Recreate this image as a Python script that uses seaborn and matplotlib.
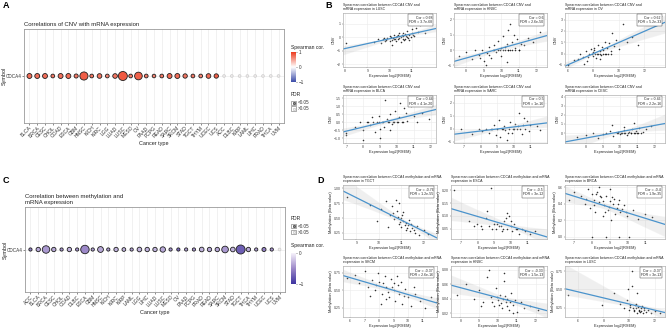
import numpy as np
import pandas as pd
import matplotlib
matplotlib.use("Agg")
import matplotlib.pyplot as plt
import seaborn as sns
from matplotlib.colors import LinearSegmentedColormap, Normalize
from matplotlib.cm import ScalarMappable
from matplotlib.patches import Rectangle

sns.set_theme(style="white")
plt.rcParams['font.family'] = ['Liberation Sans', 'DejaVu Sans']

# ---------------- Panel A data (CNV vs mRNA) ----------------
a_types = ["BLCA", "BRCA", "CESC", "CHOL", "COAD", "ESCA", "GBM", "HNSC", "KICH", "KIRC",
           "LGG", "LUAD", "LUSC", "MESO", "OV", "PAAD", "PCPG", "READ", "SARC", "SKCM",
           "STAD", "TGCT", "THYM", "UCEC", "UCS", "ACC", "DLBC", "KIRP", "LAML", "LIHC",
           "PRAD", "THCA", "UVM"]
a_cor = [0.74, 0.72, 0.74, 0.68, 0.72, 0.74, 0.68, 0.82, 0.70, 0.70,
         0.62, 0.70, 0.84, 0.68, 0.80, 0.66, 0.62, 0.68, 0.76, 0.74,
         0.70, 0.68, 0.64, 0.74, 0.82, 0.08, 0.08, 0.08, 0.08, 0.08,
         0.08, 0.08, 0.08]
a_nlogfdr = [14, 14, 14, 6, 14, 14, 8, 48, 6, 12,
             6, 12, 62, 6, 42, 6, 5, 6, 14, 14,
             10, 6, 6, 12, 10, 0.5, 0.5, 0.5, 0.5, 0.5,
             0.5, 0.5, 0.5]
a_sig = [True] * 25 + [False] * 8

# ---------------- Panel C data (methylation vs mRNA) ----------------
c_types = ["ACC", "BLCA", "BRCA", "CESC", "CHOL", "COAD", "DLBC", "ESCA", "GBM", "HNSC",
           "KICH", "KIRC", "KIRP", "LAML", "LGG", "LIHC", "LUAD", "LUSC", "MESO", "OV",
           "PAAD", "PCPG", "PRAD", "READ", "SARC", "SKCM", "STAD", "TGCT", "THCA", "THYM",
           "UCEC", "UCS", "UVM"]
c_cor = [-0.55, -0.35, -0.42, -0.35, -0.45, -0.30, -0.45, -0.50, -0.40, -0.35,
         -0.40, -0.30, -0.30, -0.40, -0.30, -0.30, -0.30, -0.35, -0.45, -0.70,
         -0.40, -0.45, -0.30, -0.35, -0.35, -0.42, -0.30, -0.75, -0.35, -0.40,
         -0.55, -0.45, -0.05]
c_nlogfdr = [3, 10, 40, 10, 3, 10, 3, 52, 3, 22,
             3, 10, 6, 3, 12, 10, 10, 18, 3, 3,
             3, 3, 12, 10, 10, 30, 12, 62, 10, 3,
             8, 3, 0.5]
c_sig = [True] * 32 + [False]

# ---------------- Panel B scatter data (CNV) ----------------
b_titles = ["LUSC", "HNSC", "OV", "BLCA", "SARC", "CESC"]
b_cor_txt = ["Cor = 0.68\nFDR = 3.7e-68", "Cor = 0.6\nFDR = 2.6e-50", "Cor = 0.62\nFDR = 5.2e-33",
             "Cor = 0.44\nFDR = 4.1e-20", "Cor = 0.5\nFDR = 1e-16", "Cor = 0.46\nFDR = 2.2e-16"]
b1_x = [8.05, 9.3, 9.6, 9.7, 9.8, 9.9, 10.0, 10.0, 10.1, 10.2, 10.2, 10.3, 10.3, 10.4, 10.4, 10.5, 10.5, 10.6,
        10.6, 10.7, 10.7, 10.8, 10.8, 10.9, 10.9, 11.0, 11.0, 11.1, 11.2, 11.2, 11.3, 11.4, 11.6, 9.5, 10.1,
        9.75, 9.85, 10.05, 10.15, 10.25, 10.35, 10.45, 10.55, 10.65, 10.75, 10.85, 10.95, 11.05, 10.45, 10.6]
b1_y = [-0.45, -0.35, -0.4, -0.15, -0.3, -0.05, -0.25, 0.1, -0.2, -0.1, 0.15, -0.3, 0.05, -0.15, 0.2, 0.0, -0.35,
        0.1, 0.3, -0.1, 0.25, 0.05, 0.45, 0.2, -0.2, 0.35, 0.6, 0.1, 1.2, 0.7, 0.4, 0.9, 0.3, -0.1, -0.6,
        -0.05, -0.2, 0.0, -0.05, -0.15, 0.1, -0.05, 0.15, -0.2, 0.1, -0.05, 0.05, 0.2, 0.3, -0.1]
b2_x = [7.6, 8.0, 8.3, 8.5, 8.7, 8.9, 9.0, 9.2, 9.3, 9.4, 9.5, 9.6, 9.7, 9.8, 9.9, 10.0, 10.0, 10.1, 10.2, 10.3,
        10.3, 10.4, 10.5, 10.6, 10.7, 10.8, 10.9, 11.0, 11.1, 11.3, 11.5, 11.8, 12.2, 9.1, 10.5, 10.4,
        9.6, 9.8, 10.1, 10.2, 10.4, 10.6, 10.8, 11.0, 8.8, 9.3]
b2_y = [-0.4, -0.1, -0.6, 0.0, -0.3, 0.0, -0.7, -0.2, 0.2, -0.5, 0.0, 0.3, -0.1, 0.6, 0.0, 0.1, -0.4, 0.9, 0.0,
        0.4, -0.8, 1.3, 0.0, 0.5, 1.0, 0.1, 0.7, 0.0, 0.4, 0.3, 0.8, 0.5, 1.2, -1.0, 1.7, 0.0,
        0.0, 0.0, 0.0, 0.2, 0.0, 0.0, 0.0, 0.0, -0.5, -0.3]
b3_x = [6.0, 6.5, 6.8, 7.0, 7.2, 7.4, 7.5, 7.7, 7.8, 8.0, 8.0, 8.1, 8.2, 8.3, 8.4, 8.5, 8.6, 8.7, 8.8, 8.9,
        9.0, 9.1, 9.2, 9.4, 9.6, 9.8, 10.0, 10.3, 10.6, 11.0, 11.5, 13.3, 7.3, 8.5, 9.5,
        7.9, 8.15, 8.35, 8.55, 8.75, 8.95, 9.15, 9.35, 7.6, 8.05]
b3_y = [-1.0, -0.6, -0.5, 0.0, -0.3, 0.2, -0.7, 0.0, 0.4, -0.2, 0.1, 0.5, -0.4, 0.0, 0.8, 0.2, -0.1, 0.6, 0.3,
        1.0, 0.0, 0.5, 0.9, 0.2, 0.7, 1.2, 0.4, 2.6, 1.0, 1.5, 0.8, 3.3, -0.9, -0.5, 1.8,
        0.0, 0.0, 0.0, 0.0, 0.0, 0.0, 0.0, 0.0, -0.3, 0.3]
b4_x = [7.0, 7.0, 7.5, 7.8, 8.0, 8.2, 8.4, 8.5, 8.7, 8.8, 9.0, 9.1, 9.2, 9.4, 9.5, 9.6, 9.7, 9.8, 9.9, 10.0,
        10.1, 10.2, 10.3, 10.5, 10.6, 10.8, 11.0, 11.2, 11.5, 11.9, 8.0, 9.3, 10.4, 9.0,
        8.3, 8.6, 8.9, 9.15, 9.45, 9.75, 10.05, 10.35, 9.6, 8.9]
b4_y = [-0.7, -0.8, -0.3, 0.0, -0.5, 0.0, -0.2, 0.3, -0.6, 0.0, -1.0, 0.0, -0.3, 0.2, 0.0, 0.5, -0.1, 0.0, 0.7,
        0.0, 0.3, 1.2, 0.0, 0.6, 0.1, 1.0, 0.4, 0.0, 0.6, 0.2, -1.1, 1.4, 0.9, -0.4,
        0.0, 0.0, 0.0, 0.0, 0.0, 0.0, 0.0, 0.0, -0.5, 0.4]
b5_x = [6.8, 7.5, 7.9, 8.1, 8.3, 8.5, 8.7, 8.8, 9.0, 9.2, 9.3, 9.4, 9.5, 9.7, 9.8, 9.9, 10.0, 10.1, 10.2, 10.3,
        10.4, 10.5, 10.7, 10.8, 11.0, 11.2, 11.4, 11.6, 9.6, 10.6, 9.1,
        8.9, 9.35, 9.65, 9.95, 10.25, 10.55, 10.9, 8.6]
b5_y = [0.0, -0.4, 0.0, -0.2, 0.0, -0.3, 0.0, 0.3, 0.0, -0.6, 0.0, 0.2, -0.1, 0.0, 0.5, -0.3, 0.0, 0.4, 0.0, 1.2,
        0.0, -0.4, 0.0, 0.6, 0.3, 1.8, 0.2, -0.1, -0.9, 0.8, 0.7,
        -0.5, 0.0, -0.3, 0.0, 0.2, 0.3, -0.2, 0.0]
b6_x = [7.5, 8.0, 8.4, 8.7, 9.0, 9.2, 9.4, 9.6, 9.8, 9.9, 10.0, 10.1, 10.2, 10.3, 10.4, 10.5, 10.6, 10.7, 10.8,
        10.9, 11.0, 11.1, 11.3, 11.5, 11.8, 12.3, 9.5, 10.2, 10.8,
        9.85, 10.05, 10.25, 10.45, 10.65, 10.85, 11.05, 11.2]
b6_y = [-0.4, -0.2, 0.0, -0.5, -0.1, 0.0, 0.2, -0.3, 0.0, 0.1, -0.1, 0.0, 0.3, 0.0, -0.2, 0.1, 0.0, 0.5, 0.0,
        0.2, 0.0, 0.6, 0.1, 0.4, 0.8, 3.8, 0.9, 0.7, 1.1,
        0.0, 0.0, 0.0, 0.0, 0.0, 0.0, 0.0, 0.0]
b_xlim = [(7.9, 12.1), (7.3, 12.6), (5.8, 13.6), (6.8, 12.3), (6.4, 12.0), (6.8, 12.6)]
b_ylim = [(-2.2, 1.8), (-1.1, 2.4), (-1.2, 3.6), (-1.3, 1.7), (-1.1, 2.6), (-1.1, 4.2)]
b_xt = [[8, 9, 10, 11], [8, 9, 10, 11, 12], [6, 8, 10, 12], [7, 8, 9, 10, 11, 12], [7, 8, 9, 10, 11], [8, 9, 10, 11, 12]]
b_yt = [[-2, -1, 0, 1], [-1, 0, 1, 2], [-1, 0, 1, 2, 3], [-1.0, -0.5, 0.0, 0.5, 1.0, 1.5], [-1, 0, 1, 2], [0, 1, 2, 3, 4]]

# ---------------- Panel D scatter data (methylation) ----------------
d_titles = ["TGCT", "ESCA", "BRCA", "SKCM", "HNSC", "LUSC"]
d_cor_txt = ["Cor = -0.76\nFDR = 1.2e-55", "Cor = -0.5\nFDR = 3e-12", "Cor = -0.4\nFDR = 1.9e-35",
             "Cor = -0.37\nFDR = 2.6e-16", "Cor = -0.33\nFDR = 1.5e-13", "Cor = -0.37\nFDR = 3e-13"]
d1_x = [8.6, 9.6, 10.1, 10.3, 10.5, 10.6, 10.7, 10.8, 10.9, 10.9, 11.0, 11.0, 11.1, 11.1, 11.2, 11.2, 11.3, 11.4,
        11.5, 11.6, 11.7, 11.8, 12.0, 12.2, 10.4, 11.05, 10.75, 11.35, 9.9,
        10.85, 10.95, 11.15, 11.25, 11.45, 10.65, 11.55]
d1_y = [0.85, 0.72, 0.65, 0.78, 0.55, 0.70, 0.48, 0.62, 0.40, 0.75, 0.50, 0.35, 0.45, 0.60, 0.30, 0.42, 0.38, 0.28,
        0.33, 0.25, 0.36, 0.22, 0.30, 0.24, 0.35, 0.55, 0.80, 0.47, 0.45,
        0.52, 0.44, 0.38, 0.34, 0.40, 0.58, 0.30]
d2_x = [6.6, 7.5, 7.8, 8.0, 8.3, 8.5, 8.7, 8.8, 9.0, 9.1, 9.3, 9.5, 9.6, 9.8, 9.9, 10.0, 10.1, 10.3, 10.5, 10.7,
        10.9, 11.2, 11.5, 8.6, 9.8, 9.4, 10.2,
        8.2, 8.9, 9.2, 9.7, 10.4, 10.0, 9.55]
d2_y = [0.20, 0.08, 0.06, 0.07, 0.05, 0.09, 0.06, 0.21, 0.07, 0.05, 0.06, 0.04, 0.08, 0.05, 0.10, 0.06, 0.04, 0.05,
        0.03, 0.05, 0.04, 0.03, 0.04, 0.12, 0.11, 0.06, 0.07,
        0.06, 0.05, 0.07, 0.09, 0.05, 0.08, 0.05]
d3_x = [6.7, 7.0, 7.4, 7.6, 7.8, 7.9, 8.0, 8.1, 8.2, 8.3, 8.4, 8.5, 8.6, 8.7, 8.8, 8.9, 9.0, 9.1, 9.2, 9.3, 9.4,
        9.5, 9.6, 9.8, 10.0, 10.3, 10.6, 11.0, 11.4, 8.0, 8.8, 9.5, 10.1, 8.4, 9.0,
        7.7, 8.15, 8.45, 8.65, 8.95, 9.25, 9.45, 9.7, 8.25, 8.75, 9.15, 9.9]
d3_y = [0.45, 0.55, 0.50, 0.40, 0.58, 0.35, 0.52, 0.45, 0.30, 0.55, 0.42, 0.48, 0.25, 0.38, 0.50, 0.32, 0.44, 0.20,
        0.40, 0.28, 0.35, 0.45, 0.30, 0.38, 0.25, 0.32, 0.22, 0.28, 0.24, 0.0, 0.0, 0.0, 0.0, 0.60, 0.58,
        0.46, 0.38, 0.50, 0.44, 0.36, 0.46, 0.40, 0.34, 0.52, 0.30, 0.48, 0.30]
d4_x = [5.8, 6.3, 6.6, 7.0, 7.2, 7.5, 7.7, 7.9, 8.0, 8.2, 8.4, 8.5, 8.7, 8.8, 9.0, 9.1, 9.3, 9.4, 9.6, 9.8, 10.0,
        10.2, 10.5, 10.8, 11.2, 11.6, 8.1, 9.2, 7.4, 10.4,
        7.8, 8.3, 8.6, 8.9, 9.5, 9.7, 8.45, 9.05]
d4_y = [0.68, 0.72, 0.60, 0.78, 0.55, 0.65, 0.50, 0.75, 0.62, 0.45, 0.70, 0.55, 0.40, 0.66, 0.50, 0.35, 0.58, 0.45,
        0.30, 0.52, 0.40, 0.28, 0.45, 0.35, 0.25, 0.40, 0.30, 0.70, 0.42, 0.55,
        0.58, 0.60, 0.48, 0.55, 0.62, 0.42, 0.38, 0.60]
d5_x = [7.8, 8.3, 8.7, 9.0, 9.2, 9.4, 9.6, 9.8, 9.9, 10.0, 10.1, 10.2, 10.3, 10.4, 10.5, 10.6, 10.7, 10.8, 10.9,
        11.0, 11.2, 11.4, 11.7, 12.1, 9.5, 10.3, 10.8, 9.1,
        9.7, 10.05, 10.25, 10.45, 10.65, 10.35, 10.15, 9.95]
d5_y = [0.045, 0.060, 0.040, 0.052, 0.035, 0.070, 0.042, 0.030, 0.055, 0.038, 0.045, 0.028, 0.065, 0.035, 0.040,
        0.025, 0.048, 0.032, 0.038, 0.022, 0.035, 0.028, 0.030, 0.025, 0.080, 0.075, 0.020, 0.030,
        0.036, 0.032, 0.040, 0.030, 0.036, 0.044, 0.034, 0.042]
d6_x = [5.2, 7.9, 8.8, 9.3, 9.6, 9.8, 10.0, 10.1, 10.2, 10.3, 10.4, 10.5, 10.6, 10.7, 10.8, 10.9, 11.0, 11.1, 11.2,
        11.3, 11.5, 11.7, 12.0, 12.4, 10.2, 9.9, 10.6,
        10.05, 10.35, 10.55, 10.75, 10.95, 11.15, 10.45, 10.85]
d6_y = [0.42, 0.28, 0.45, 0.30, 0.25, 0.35, 0.22, 0.28, 0.55, 0.24, 0.20, 0.30, 0.18, 0.26, 0.22, 0.20, 0.27, 0.17,
        0.24, 0.19, 0.22, 0.18, 0.20, 0.17, 0.75, 0.50, 0.45,
        0.26, 0.22, 0.24, 0.20, 0.25, 0.21, 0.28, 0.19]
d_xlim = [(8.4, 12.6), (6.4, 12.2), (6.5, 12.1), (5.5, 12.0), (7.5, 12.6), (5.0, 12.8)]
d_ylim = [(0.15, 1.05), (0.01, 0.22), (-0.03, 0.63), (0.12, 0.85), (0.015, 0.085), (0.12, 0.82)]
d_xt = [[9, 10, 11, 12], [7, 8, 9, 10, 11], [7, 8, 9, 10, 11], [6, 7, 8, 9, 10, 11], [8, 9, 10, 11, 12], [6, 8, 10, 12]]
d_yt = [[0.25, 0.50, 0.75, 1.00], [0.05, 0.10, 0.15, 0.20], [0.0, 0.2, 0.4, 0.6], [0.25, 0.50, 0.75],
        [0.02, 0.04, 0.06, 0.08], [0.25, 0.50, 0.75]]

# ---------------- Figure ----------------
W, H = 669, 329
fig = plt.figure(figsize=(W / 100, H / 100), dpi=100)
fig.patch.set_facecolor("white")


def axpx(x0, y0, x1, y1):
    return fig.add_axes([x0 / W, 1 - y1 / H, (x1 - x0) / W, (y1 - y0) / H])


cmap_a = LinearSegmentedColormap.from_list("bwr_gg", ["#3b4ba8", "#ffffff", "#ec3a1e"])
cmap_c = LinearSegmentedColormap.from_list("pur_gg", ["#3d33a0", "#9c88c8", "#f6f2fb"])
norm_a = Normalize(-1, 1)
norm_c = Normalize(-1, 0)


def dotpanel(box, types, cors, nlog, sig, cmap, norm, title):
    ax = axpx(*box)
    df = pd.DataFrame({"type": types, "symbol": ["CDCA4"] * len(types), "cor": cors, "nlog": nlog})
    for i in range(len(types)):
        ax.axvline(i, color="#ececec", lw=0.5, zorder=0)
    ax.axhline(0, color="#ececec", lw=0.5, zorder=0)
    sns.scatterplot(data=df, x="type", y="symbol", hue="cor", palette=cmap, hue_norm=norm,
                    size="nlog", sizes=(3.5, 42), size_norm=(0, 60), legend=False, ax=ax,
                    linewidth=0.6, zorder=3)
    coll = ax.collections[-1]
    fc = np.array(coll.get_facecolors())
    ecs = []
    for i, s in enumerate(sig):
        if s:
            ecs.append((0.12, 0.12, 0.12, 1))
        else:
            fc[i] = (0.94, 0.92, 0.92, 0.8)
            ecs.append((0.82, 0.82, 0.82, 1))
    coll.set_facecolors(fc)
    coll.set_edgecolors(ecs)
    ax.set_xlim(-0.7, len(types) - 0.3)
    ax.set_ylim(-1, 1)
    ax.tick_params(axis="x", labelsize=3.6, rotation=45, length=1.2, width=0.4, pad=0.5, colors="#333333")
    ax.tick_params(axis="y", labelsize=3.3, length=1.2, width=0.4, pad=0.5, colors="#333333")
    for lab in ax.get_xticklabels():
        lab.set_ha("right")
        lab.set_rotation_mode("anchor")
    ax.tick_params(bottom=True, left=True)
    for sp in ax.spines.values():
        sp.set_color("#9a9a9a")
        sp.set_linewidth(0.6)
    ax.set_xlabel("Cancer type", fontsize=4, labelpad=1, color="#222222")
    ax.set_ylabel("Symbol", fontsize=4, color="#222222")
    ax.yaxis.set_label_coords(-0.065, 0.5)
    ax.set_title(title, loc="left", fontsize=4.3, pad=2.5, color="#222222")
    return ax


dotpanel((24, 29, 284, 123), a_types, a_cor, a_nlogfdr, a_sig, cmap_a, norm_a,
         "Correlations of CNV with mRNA expression")
dotpanel((25, 207, 285, 292), c_types, c_cor, c_nlogfdr, c_sig, cmap_c, norm_c,
         "Correlation between methylation and\nmRNA expression")


def colorbar(box, cmap, norm, ticks, labels, ytitle):
    cax = axpx(*box)
    cb = fig.colorbar(ScalarMappable(norm=norm, cmap=cmap), cax=cax)
    cb.outline.set_visible(False)
    cb.set_ticks(ticks)
    cb.set_ticklabels(labels)
    cax.tick_params(labelsize=3.3, length=1, width=0.4, pad=0.8, colors="#333333")
    fig.text(box[0] / W, 1 - ytitle / H, "Spearman cor.", fontsize=3.6, va="center", color="#222222")


def fdrlegend(x, ytitle, y1, y2):
    fig.text(x / W, 1 - ytitle / H, "FDR", fontsize=3.6, va="center", color="#222222")
    lax = axpx(x, y1 - 3, x + 7, y2 + 3)
    lax.set_xlim(0, 7)
    lax.set_ylim(y2 + 3, y1 - 3)
    lax.axis("off")
    for yy, ec, fc in [(y1, "#222222", "#888888"), (y2, "#bbbbbb", "#eeeeee")]:
        lax.add_patch(Rectangle((0.3, yy - 2.2), 4.4, 4.4, fc="white", ec="#8a8a8a", lw=0.5))
        lax.scatter([2.5], [yy], s=3, c=[fc], edgecolors=[ec], linewidths=0.4)
    fig.text((x + 7) / W, 1 - y1 / H, "<0.05", fontsize=3.3, va="center", color="#333333")
    fig.text((x + 7) / W, 1 - y2 / H, ">0.05", fontsize=3.3, va="center", color="#333333")


colorbar((291, 52, 296, 82), cmap_a, norm_a, [-1, 0, 1], ["\u22121", "0", "1"], 47)
fdrlegend(291, 94, 103, 108.5)
fdrlegend(291, 218, 226, 232)
colorbar((291, 253, 296, 284), cmap_c, norm_c, [-1, 0], ["\u22121", "0"], 246)


def scat(box, x, y, xlim, ylim, xt, yt, title, ylabel, cortxt):
    ax = axpx(*box)
    ax.set_xlim(*xlim)
    ax.set_ylim(*ylim)
    ax.grid(True, color="#ebebeb", lw=0.4)
    ax.set_axisbelow(True)
    sns.regplot(x=np.array(x), y=np.array(y), ax=ax, truncate=False, ci=95, n_boot=300, seed=1,
                scatter_kws=dict(s=1.3, color="black", linewidths=0),
                line_kws=dict(color="#4a93cc", lw=0.9))
    for coll in ax.collections[1:]:
        coll.set_facecolor((0.6, 0.6, 0.6, 0.4))
    ax.set_xlim(*xlim)
    ax.set_ylim(*ylim)
    ax.set_xticks(xt)
    ax.set_yticks(yt)
    ax.tick_params(labelsize=2.5, length=0.8, width=0.3, pad=0.5, colors="#444444")
    ax.tick_params(bottom=True, left=True)
    for sp in ax.spines.values():
        sp.set_color("#b0b0b0")
        sp.set_linewidth(0.5)
    ax.set_xlabel("Expression log2(RSEM)", fontsize=2.8, labelpad=0.8, color="#222222")
    ax.set_ylabel(ylabel, fontsize=2.8, labelpad=1, color="#222222")
    ax.set_title(title, loc="left", fontsize=2.5, pad=2, color="#222222", linespacing=1.1)
    ax.text(0.96, 0.95, cortxt, transform=ax.transAxes, ha="right", va="top", fontsize=2.5,
            linespacing=1.2, bbox=dict(boxstyle="square,pad=0.35", fc="white", ec="#333333", lw=0.3))


b_boxes = [(343, 13, 436, 67), (454, 13, 547, 67), (565, 13, 665, 67),
           (343, 95, 436, 143), (454, 95, 547, 143), (565, 95, 665, 143)]
b_x = [b1_x, b2_x, b3_x, b4_x, b5_x, b6_x]
b_y = [b1_y, b2_y, b3_y, b4_y, b5_y, b6_y]
for i in range(6):
    scat(b_boxes[i], b_x[i], b_y[i], b_xlim[i], b_ylim[i], b_xt[i], b_yt[i],
         "Spearman correlation between CDCA4 CNV and\nmRNA expression in " + b_titles[i], "CNV", b_cor_txt[i])

d_boxes = [(343, 185, 437, 239), (451, 185, 547, 239), (565, 185, 665, 239),
           (343, 266, 437, 317), (451, 266, 547, 317), (565, 266, 665, 317)]
d_x = [d1_x, d2_x, d3_x, d4_x, d5_x, d6_x]
d_y = [d1_y, d2_y, d3_y, d4_y, d5_y, d6_y]
for i in range(6):
    scat(d_boxes[i], d_x[i], d_y[i], d_xlim[i], d_ylim[i], d_xt[i], d_yt[i],
         "Spearman correlation between CDCA4 methylation and mRNA\nexpression in " + d_titles[i],
         "Methylation (Beta value)", d_cor_txt[i])

for lab, x, y in [("A", 3, 1), ("B", 325, 1), ("C", 3, 176), ("D", 317, 176)]:
    fig.text(x / W, 1 - y / H, lab, fontsize=6.5, fontweight="bold", va="top", ha="left", color="black")

fig.savefig("out.png", dpi=100, facecolor="white")
